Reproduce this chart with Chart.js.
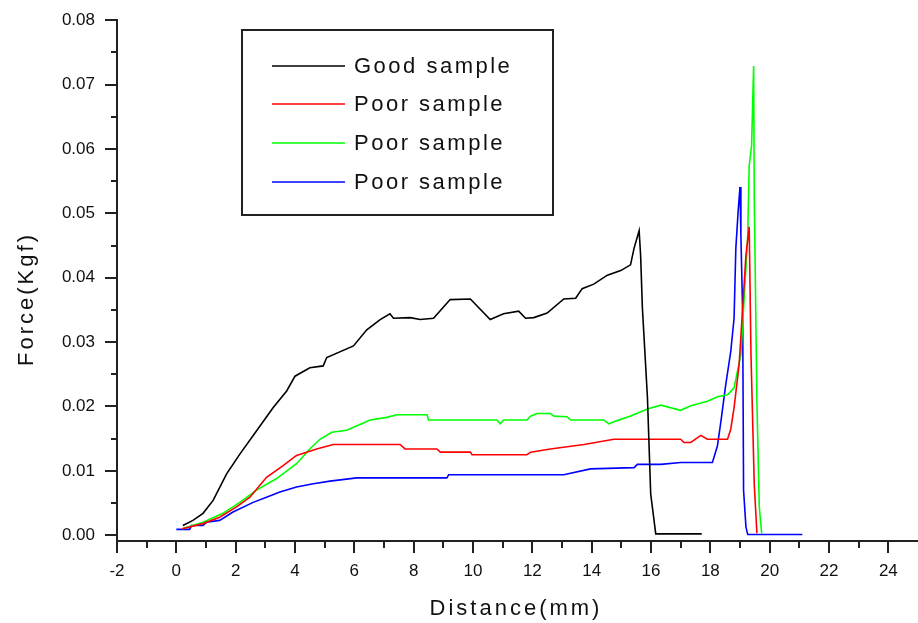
<!DOCTYPE html>
<html>
<head>
<meta charset="utf-8">
<script src="https://cdn.jsdelivr.net/npm/chart.js@4/dist/chart.umd.min.js"></script>
<style>
  html, body { margin: 0; padding: 0; background: #fff; }
  #wrap { width: 918px; height: 623px; }
</style>
</head>
<body>
<div id="wrap"><canvas id="forceChart"></canvas></div>
<script>
// series labels and colours
const seriesLabels = ["Good sample", "Poor sample", "Poor sample", "Poor sample"];
const seriesColors = ["#000000", "#ff0000", "#00ff00", "#0000ff"];

// Good sample (black)
const goodX = [0.22, 0.56, 0.9, 1.24, 1.69, 2.14, 2.7, 3.26, 3.72, 4.0, 4.5, 4.95, 5.07, 5.97, 6.42, 6.87, 7.2, 7.32, 7.88, 8.22, 8.67, 9.23, 9.91, 10.58, 11.03, 11.54, 11.77, 12.05, 12.5, 13.06, 13.46, 13.68, 14.07, 14.53, 14.98, 15.31, 15.43, 15.6, 15.65, 15.71, 15.88, 15.99, 16.16, 17.71];
const goodY = [0.0015, 0.0023, 0.0034, 0.0054, 0.0095, 0.0126, 0.0162, 0.0198, 0.0224, 0.0247, 0.026, 0.0263, 0.0276, 0.0294, 0.0319, 0.0335, 0.0344, 0.0337, 0.0338, 0.0335, 0.0337, 0.0366, 0.0367, 0.0335, 0.0344, 0.0348, 0.0337, 0.0338, 0.0345, 0.0367, 0.0368, 0.0383, 0.039, 0.0404, 0.0411, 0.042, 0.0446, 0.0473, 0.0435, 0.0353, 0.0214, 0.0064, 0.0002, 0.0002];

// Poor sample (red)
const redX = [0.2, 0.9, 1.46, 2.03, 2.48, 3.04, 3.6, 4.05, 4.39, 4.73, 5.29, 7.54, 7.71, 8.78, 8.9, 9.91, 9.97, 11.82, 11.94, 12.61, 13.74, 14.75, 16.33, 17.0, 17.11, 17.34, 17.68, 17.9, 18.58, 18.69, 18.8, 18.97, 19.09, 19.2, 19.31, 19.37, 19.48, 19.57];
const redY = [0.001, 0.0018, 0.0028, 0.0044, 0.0059, 0.009, 0.0108, 0.0124, 0.0129, 0.0134, 0.0141, 0.0141, 0.0134, 0.0134, 0.0129, 0.0129, 0.0125, 0.0125, 0.0129, 0.0134, 0.0141, 0.0149, 0.0149, 0.0149, 0.0144, 0.0144, 0.0155, 0.0149, 0.0149, 0.0165, 0.0198, 0.0265, 0.0353, 0.0435, 0.0479, 0.0281, 0.008, 0.0003];

// Poor sample (green)
const greenX = [0.2, 0.9, 1.57, 2.14, 2.7, 3.38, 4.05, 4.5, 4.84, 5.24, 5.74, 6.19, 6.53, 7.09, 7.43, 8.45, 8.5, 10.81, 10.92, 11.03, 11.82, 11.94, 12.16, 12.61, 12.73, 13.17, 13.29, 14.41, 14.58, 14.86, 15.31, 15.88, 16.33, 17.0, 17.34, 17.9, 18.24, 18.58, 18.8, 19.03, 19.2, 19.26, 19.31, 19.39, 19.46, 19.48, 19.57, 19.65, 19.73];
const greenY = [0.001, 0.002, 0.0034, 0.0051, 0.007, 0.0088, 0.0111, 0.0134, 0.0149, 0.016, 0.0163, 0.0172, 0.0179, 0.0183, 0.0187, 0.0187, 0.0179, 0.0179, 0.0173, 0.0179, 0.0179, 0.0185, 0.0189, 0.0189, 0.0185, 0.0184, 0.0179, 0.0179, 0.0173, 0.0178, 0.0185, 0.0196, 0.0202, 0.0194, 0.0201, 0.0208, 0.0215, 0.0218, 0.0229, 0.0281, 0.0415, 0.0466, 0.0574, 0.0605, 0.0729, 0.0528, 0.0209, 0.0044, 0.0003];

// Poor sample (blue)
const blueX = [0.0, 0.45, 0.51, 0.9, 1.01, 1.46, 1.91, 2.59, 3.04, 3.49, 4.05, 4.62, 5.18, 6.08, 9.12, 9.18, 13.06, 13.96, 15.43, 15.54, 16.33, 17.0, 17.85, 18.07, 18.24, 18.36, 18.52, 18.69, 18.8, 18.86, 18.94, 19.0, 19.03, 19.09, 19.12, 19.2, 19.26, 21.1];
const blueY = [0.0009, 0.0009, 0.0015, 0.0015, 0.002, 0.0023, 0.0036, 0.0051, 0.0059, 0.0067, 0.0075, 0.008, 0.0084, 0.0089, 0.0089, 0.0094, 0.0094, 0.0103, 0.0105, 0.011, 0.011, 0.0113, 0.0113, 0.0113, 0.0139, 0.0178, 0.0234, 0.0286, 0.0337, 0.0446, 0.0505, 0.0541, 0.0466, 0.0343, 0.007, 0.0013, 0.0001, 0.0001];

// axis ranges and tick steps
const xMin = -2, xMax = 25, xStep = 2;
const yMin = -0.0009, yMax = 0.08, yStep = 0.01;
const xMinorTicks = [-1, 1, 3, 5, 7, 9, 11, 13, 15, 17, 19, 21, 23];
const yMinorTicks = [0.005, 0.015, 0.025, 0.035, 0.045, 0.055, 0.065, 0.075];

const xTitle = "Distance(mm)";
const yTitle = "Force(Kgf)";

function toPoints(xs, ys) {
  return xs.map((x, i) => ({ x: x, y: ys[i] }));
}

const seriesX = [goodX, redX, greenX, blueX];
const seriesY = [goodY, redY, greenY, blueY];

const datasets = seriesLabels.map((lab, i) => ({
  label: lab,
  data: toPoints(seriesX[i], seriesY[i]),
  borderColor: seriesColors[i],
  borderWidth: 1.6,
  pointRadius: 0,
  tension: 0,
  fill: false
}));

// minor ticks, axis titles and framed legend
const decorPlugin = {
  id: 'decor',
  afterDraw(chart) {
    const ctx = chart.ctx;
    const xs = chart.scales.x, ys = chart.scales.y;
    ctx.save();
    ctx.strokeStyle = '#222';
    ctx.lineWidth = 2;
    ctx.beginPath();
    xMinorTicks.forEach(v => {
      const px = Math.round(xs.getPixelForValue(v));
      ctx.moveTo(px, ys.bottom);
      ctx.lineTo(px, ys.bottom + 7);
    });
    yMinorTicks.forEach(v => {
      const py = Math.round(ys.getPixelForValue(v));
      ctx.moveTo(xs.left, py);
      ctx.lineTo(xs.left - 6, py);
    });
    ctx.stroke();

    // axis titles
    ctx.fillStyle = '#111';
    ctx.font = '22px "Liberation Sans", Arial, sans-serif';
    ctx.letterSpacing = '3px';
    ctx.textAlign = 'center';
    ctx.textBaseline = 'middle';
    ctx.fillText(xTitle, 516, 609);
    ctx.save();
    ctx.translate(27, 299);
    ctx.rotate(-Math.PI / 2);
    ctx.fillText(yTitle, 0, 0);
    ctx.restore();

    // legend box
    ctx.lineWidth = 2;
    ctx.strokeStyle = '#222';
    ctx.strokeRect(242, 30, 311, 185);
    ctx.font = '22px "Liberation Sans", Arial, sans-serif';
    ctx.letterSpacing = '2.5px';
    ctx.textAlign = 'left';
    const rows = [66, 104, 143, 182];
    chart.data.datasets.forEach((ds, i) => {
      ctx.strokeStyle = ds.borderColor;
      ctx.lineWidth = 1.6;
      ctx.beginPath();
      ctx.moveTo(272, rows[i]);
      ctx.lineTo(345, rows[i]);
      ctx.stroke();
      ctx.fillStyle = '#111';
      ctx.fillText(ds.label, 354, rows[i] + 1);
    });
    ctx.restore();
  }
};

const tickFont = { family: '"Liberation Sans", Arial, sans-serif', size: 17 };

new Chart(document.getElementById('forceChart'), {
  type: 'line',
  data: { datasets: datasets },
  plugins: [decorPlugin],
  options: {
    responsive: true,
    maintainAspectRatio: false,
    animation: false,
    events: [],
    layout: { padding: { top: 17, right: 0, left: 0, bottom: 0 } },
    plugins: {
      legend: { display: false },
      tooltip: { enabled: false }
    },
    scales: {
      x: {
        type: 'linear',
        min: xMin,
        max: xMax,
        afterFit(scale) { scale.height = 82; },
        border: { display: true, color: '#222', width: 2 },
        grid: { drawOnChartArea: false, drawTicks: true, tickLength: 12, color: '#222', lineWidth: 2 },
        ticks: {
          stepSize: xStep,
          includeBounds: false,
          maxRotation: 0,
          autoSkip: false,
          padding: 8,
          color: '#111',
          font: tickFont,
          callback: v => String(v)
        }
      },
      y: {
        type: 'linear',
        min: yMin,
        max: yMax,
        afterFit(scale) { scale.width = 117; },
        border: { display: true, color: '#222', width: 2 },
        grid: { drawOnChartArea: false, drawTicks: true, tickLength: 12, color: '#222', lineWidth: 2 },
        ticks: {
          stepSize: yStep,
          includeBounds: false,
          autoSkip: false,
          padding: 10,
          color: '#111',
          font: tickFont,
          callback: v => Number(v).toFixed(2)
        }
      }
    }
  }
});
</script>
</body>
</html>
